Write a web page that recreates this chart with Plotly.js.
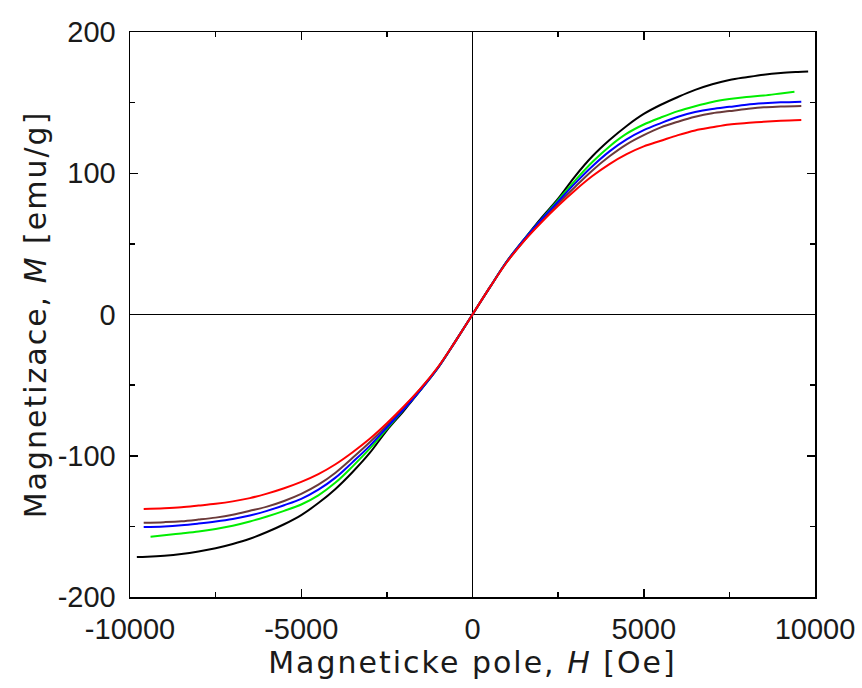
<!DOCTYPE html>
<html>
<head>
<meta charset="utf-8">
<script src="https://cdn.plot.ly/plotly-3.0.1.min.js"></script>
<style>
html,body{margin:0;padding:0;background:#fff;}
#chart{width:862px;height:688px;}
#chart .xtitle, #chart .ytitle{letter-spacing:2px;}
</style>
</head>
<body>
<div id="chart"></div>
<script>
// Magnetic field H [Oe]
const H = [-9800,-9500,-9000,-8500,-8000,-7500,-7000,-6500,-6000,-5500,-5000,-4500,-4000,-3500,-3000,-2500,-2000,-1500,-1000,-500,0,
           500,1000,1500,2000,2500,3000,3500,4000,4500,5000,5500,6000,6500,7000,7500,8000,8500,9000,9500,9800];

// Series: magnetization M [emu/g]
const Hblack = H;
const Mblack = [-171.7,-171.5,-170.8,-169.6,-167.8,-165.5,-162.5,-158.8,-154,-148.5,-142,-133.5,-123.5,-111.5,-98,-82,-68,-53,-37.5,-19,0,
                19,37.5,53,68,82,98,112,123.5,133.5,142,148.5,154,159,163,166,168,169.8,171,171.7,172];

const Hgreen = [-9400,-9000,-8500,-8000,-7500,-7000,-6500,-6000,-5500,-5000,-4500,-4000,-3500,-3000,-2500,-2000,-1500,-1000,-500,0,
                500,1000,1500,2000,2500,3000,3500,4000,4500,5000,5500,6000,6500,7000,7500,8000,8500,9000,9400];
const Mgreen = [-157.3,-156.3,-155,-153.6,-151.8,-149.5,-146.5,-143,-139,-134.5,-128,-119,-107.5,-95,-81,-67,-53,-37.5,-19,0,
                19,37.5,53,67,81,95,108,119,128,134.5,139.5,144,147.5,150.5,152.5,154,155,156.5,157.7];

const Hblue = [-9600,-9000,-8500,-8000,-7500,-7000,-6500,-6000,-5500,-5000,-4500,-4000,-3500,-3000,-2500,-2000,-1500,-1000,-500,0,
               500,1000,1500,2000,2500,3000,3500,4000,4500,5000,5500,6000,6500,7000,7500,8000,8500,9000,9600];
const Mblue = [-150.4,-150,-149.2,-148,-146.6,-144.8,-142.3,-139,-135,-130.5,-124,-115.5,-104.5,-93,-80,-67,-53,-37.5,-19,0,
               19,37.5,53,67,80,93,105,115.5,124,130.5,135.5,140,143.3,145.5,147,148.5,149.5,150.2,150.7];

const Hbrown = Hblue;
const Mbrown = [-147.4,-147,-146.4,-145.2,-143.8,-141.8,-139,-136,-132,-127,-120.5,-112,-101.5,-90.5,-78.5,-65.5,-52,-37,-19,0,
                19,37,52,65.5,78.5,90.5,102,112,120.5,127,132.5,136.5,140,142.5,144,145.5,146.7,147.2,147.6];

const Hred = Hblue;
const Mred = [-137.7,-137.2,-136.5,-135.3,-134,-132.3,-130,-126.8,-123,-118.5,-113,-106,-97.5,-88,-77,-65,-52,-37,-19,0,
              19,37,52,65,77,88,98,106.5,113.5,119,123,127,130.3,132.5,134.5,135.5,136.5,137.2,137.7];

const xTicks = [-10000,-5000,0,5000,10000];
const yTicks = [-200,-100,0,100,200];

function tr(x, y, color) {
  return {x: x, y: y, type: 'scatter', mode: 'lines',
          line: {color: color, width: 2, shape: 'spline', smoothing: 1},
          hoverinfo: 'skip', showlegend: false};
}

const data = [
  tr(Hblack, Mblack, '#000000'),
  tr(Hgreen, Mgreen, '#00ee00'),
  tr(Hbrown, Mbrown, '#6b3a3a'),
  tr(Hblue, Mblue, '#0000ff'),
  tr(Hred, Mred, '#ff0000')
];

const tickFont = {family: 'Liberation Sans, Arial, sans-serif', size: 29, color: '#1a1a1a'};
const titleFont = {family: 'DejaVu Sans, sans-serif', size: 30, color: '#1a1a1a'};

const layout = {
  width: 862, height: 688,
  margin: {l: 130, r: 47, t: 32, b: 91},
  paper_bgcolor: '#ffffff', plot_bgcolor: '#ffffff',
  showlegend: false,
  xaxis: {
    range: [-10000, 10000], tickvals: xTicks, ticktext: xTicks.map(String),
    ticks: 'inside', ticklen: 8, tickwidth: 1.5, tickcolor: '#000',
    ticklabelstandoff: 6,
    minor: {tickvals: [-7500,-2500,2500,7500], ticks: 'inside', ticklen: 5, tickwidth: 1.5, tickcolor: '#000'},
    showline: true, linecolor: '#000', linewidth: 1.5, mirror: 'allticks',
    showgrid: false, zeroline: true, zerolinecolor: '#000', zerolinewidth: 1.5,
    tickfont: tickFont,
    title: {text: 'Magneticke pole, <i>H</i> [Oe]', font: titleFont, standoff: 2}
  },
  yaxis: {
    range: [-200, 200], tickvals: yTicks, ticktext: yTicks.map(String),
    ticks: 'inside', ticklen: 8, tickwidth: 1.5, tickcolor: '#000',
    ticklabelstandoff: 7,
    minor: {tickvals: [-150,-50,50,150], ticks: 'inside', ticklen: 5, tickwidth: 1.5, tickcolor: '#000'},
    showline: true, linecolor: '#000', linewidth: 1.5, mirror: 'allticks',
    showgrid: false, zeroline: true, zerolinecolor: '#000', zerolinewidth: 1.5,
    tickfont: tickFont,
    title: {text: 'Magnetizace, <i>M</i> [emu/g]', font: titleFont, standoff: 2}
  }
};

Plotly.newPlot('chart', data, layout, {displayModeBar: false, staticPlot: true});
</script>
</body>
</html>
